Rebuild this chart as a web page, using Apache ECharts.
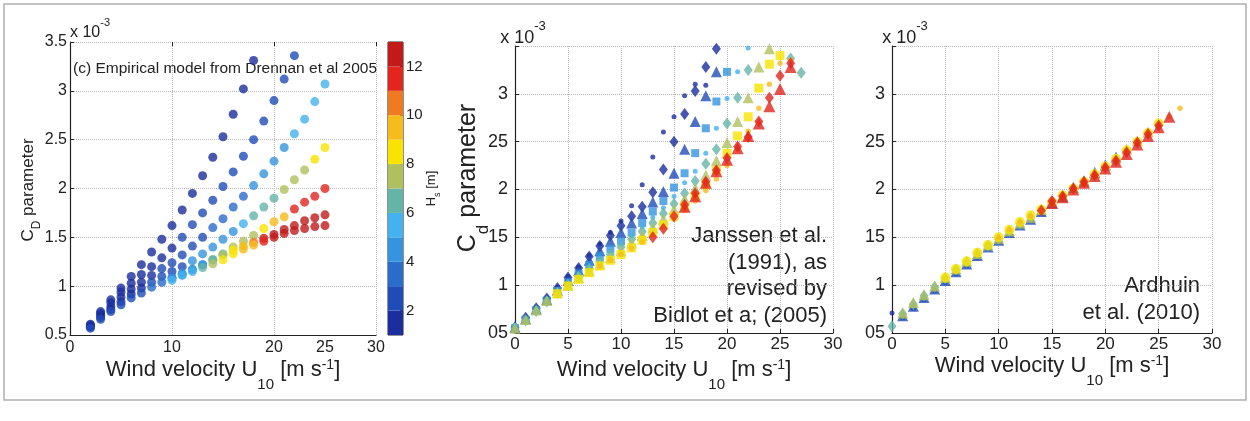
<!DOCTYPE html>
<html>
<head>
<meta charset="utf-8">
<script src="https://cdn.jsdelivr.net/npm/echarts@6/dist/echarts.min.js"></script>
<style>
html, body { margin: 0; padding: 0; background: #fff; }
#chart { width: 1250px; height: 421px; }
</style>
</head>
<body>
<div id="chart"></div>
<script>
// Hs colour bar (m) : band edges and colours
const hsLevels = [1, 2, 3, 4, 5, 6, 7, 8, 9, 10, 11, 12, 13];
const hsColors = ['#1a2e9e', '#1f4cb8', '#2a6ccc', '#3494e0', '#44b2ee', '#64b4a8',
                  '#b0c05c', '#f8e400', '#f6bc1c', '#f07a22', '#e2261e', '#c01a1a'];
const hsTicks = [2, 4, 6, 8, 10, 12];

// tick labels
const yTicks = [0.5, 1, 1.5, 2, 2.5, 3, 3.5];
const yLabels1 = ['0.5', '1', '1.5', '2', '2.5', '3', '3.5'];
const yLabels23 = ['05', '1', '15', '2', '25', '3', ''];
const xTicks = [0, 5, 10, 15, 20, 25, 30];
const xLabels1 = ['0', '', '10', '', '20', '25', '30'];
const xLabels23 = ['0', '5', '10', '15', '20', '25', '30'];

// (c) Drennan et al 2005 : each curve starts at U = start, one point per m/s
const drC1 = { start: 2, cd: [0.61,0.74,0.86,0.98,1.10,1.22,1.35,1.48,1.62,1.78,1.95,2.13,2.32,2.53,2.76,3.02,3.31],
  hs: [1.5,1.5,1.5,1.5,1.5,1.5,1.5,1.5,1.5,1.5,1.5,1.5,1.5,1.5,1.5,1.5,1.5] };
const drC2 = { start: 2, cd: [0.60,0.72,0.83,0.94,1.03,1.12,1.20,1.29,1.39,1.50,1.63,1.75,1.88,2.02,2.17,2.33,2.50,2.69,2.90,3.12,3.36],
  hs: [1.5,1.5,1.5,1.5,1.5,1.5,1.5,1.5,1.5,2.5,2.5,2.5,2.5,2.5,2.5,2.5,2.5,2.5,2.5,2.5,2.5] };
const drC3 = { start: 2, cd: [0.59,0.70,0.79,0.89,0.97,1.04,1.11,1.18,1.24,1.32,1.41,1.50,1.60,1.69,1.81,1.92,2.03,2.15,2.28,2.42,2.56,2.71,2.89,3.07],
  hs: [1.5,1.5,1.5,1.5,1.5,1.5,1.5,2.5,2.5,2.5,2.5,2.5,3.5,3.5,3.5,3.5,4.5,4.5,4.5,4.5,5.5,5.5,5.5,5.5] };
const drC4 = { start: 2, cd: [0.58,0.68,0.76,0.84,0.92,0.98,1.04,1.10,1.15,1.20,1.26,1.33,1.40,1.48,1.56,1.64,1.72,1.81,1.90,1.99,2.09,2.19,2.30,2.42],
  hs: [1.5,1.5,1.5,1.5,1.5,1.5,2.5,2.5,2.5,2.5,4.5,4.5,4.5,4.5,4.5,5.5,6.5,6.5,6.5,7.5,7.5,7.5,8.5,8.5] };
const drC5 = { start: 2, cd: [0.57,0.66,0.74,0.81,0.88,0.93,0.99,1.04,1.09,1.13,1.17,1.22,1.27,1.33,1.40,1.46,1.52,1.59,1.66,1.71,1.79,1.86,1.92,2.00],
  hs: [2.5,2.5,2.5,2.5,2.5,2.5,3.5,3.5,3.5,4.5,4.5,4.5,6.5,6.5,7.5,7.5,7.5,8.5,9.5,9.5,11.5,11.5,11.5,11.5] };
const drC6 = { start: 10, cd: [1.08,1.12,1.17,1.22,1.27,1.32,1.37,1.41,1.45,1.49,1.53,1.58,1.62,1.67,1.70,1.73],
  hs: [4.5,4.5,4.5,4.5,6.5,7.5,8.5,9.5,10.5,12.5,12.5,12.5,12.5,12.5,12.5,12.5] };
const drC7 = { start: 10, cd: [1.06,1.11,1.15,1.19,1.23,1.27,1.33,1.38,1.42,1.46,1.50,1.54,1.57,1.59,1.61,1.62],
  hs: [5.5,5.5,5.5,6.5,7.5,8.5,8.5,9.5,9.5,11.5,12.5,12.5,12.5,12.5,12.5,12.5] };
const drennan = [drC1, drC2, drC3, drC4, drC5, drC6, drC7];

// Janssen (1991) / Bidlot (2005)
const jaNavyDot = { start: 0, hs: 1.2, cd: [0.57,0.67,0.77,0.87,0.98,1.09,1.19,1.31,1.43,1.55,1.67,1.83,2.05,2.34,2.60,2.76,2.98,3.10,3.09] };
const jaNavyDiamond = { start: 0, hs: 1.8, cd: [0.56,0.66,0.76,0.86,0.97,1.08,1.18,1.30,1.41,1.52,1.62,1.72,1.82,1.97,2.21,2.50,2.79,3.03,3.28,3.47] };
const jaBlueTriangle = { start: 0, hs: 2.8, cd: [0.56,0.65,0.75,0.85,0.95,1.05,1.15,1.26,1.36,1.46,1.55,1.65,1.75,1.87,1.98,2.17,2.42,2.71,2.98,3.23] };
const jaBlueSquare = { start: 0, hs: 4.2, cd: [0.55,0.64,0.74,0.84,0.94,1.03,1.12,1.21,1.30,1.38,1.46,1.55,1.65,1.77,1.88,2.02,2.17,2.38,2.64,2.92,3.23] };
const jaCyanDot = { start: 0, hs: 5.2, cd: [0.58,0.64,0.74,0.84,0.93,1.02,1.10,1.19,1.27,1.35,1.43,1.52,1.61,1.71,1.81,1.93,2.07,2.19,2.38,2.64,2.95,3.23,3.48] };
const jaTealDiamond = { start: 0, hs: 6.5, cd: [0.55,0.63,0.73,0.83,0.92,1.01,1.09,1.17,1.25,1.32,1.40,1.48,1.56,1.65,1.75,1.85,1.96,2.09,2.27,2.42,2.69,2.96,3.25] };
const jaTealDiamondEnd = { start: 26, hs: 6.5, cd: [3.37, 3.22] };
const jaGreenTriangle = { start: 0, hs: 7.5, cd: [0.55,0.64,0.74,0.84,0.92,1.00,1.08,1.15,1.22,1.29,1.36,1.44,1.52,1.60,1.69,1.79,1.90,2.01,2.15,2.30,2.49,2.71,2.96,3.28,3.47] };
const jaYellowSquare = { start: 4, hs: 8.5, cd: [0.91,0.99,1.06,1.13,1.20,1.26,1.32,1.39,1.47,1.55,1.63,1.72,1.82,1.93,2.05,2.20,2.38,2.56,2.76,3.06,3.31,3.40] };
const jaOrangeDot = { start: 8, hs: 9.5, cd: [1.20,1.26,1.32,1.38,1.45,1.53,1.61,1.69,1.78,1.88,1.99,2.11,2.25,2.42,2.61,2.85,3.10,3.32,3.35] };
const jaRedDiamond = { start: 13, hs: 11.3, cd: [1.50,1.59,1.72,1.84,1.96,2.08,2.20,2.33,2.45,2.55,2.71,2.96,3.19,3.32] };
const jaRedTriangle = { start: 16, hs: 11.7, cd: [1.82,1.93,2.07,2.19,2.31,2.43,2.56,2.69,2.87,3.05,3.28] };

// Ardhuin et al. (2010)
const arNavyDot = { start: 0, hs: 1.2, cd: [0.71,0.66,0.76,0.85,0.94,1.03,1.12,1.20,1.29,1.38,1.45,1.53,1.61,1.68,1.75,1.84,1.91,1.99,2.07,2.16,2.25] };
const arBlueTriangle = { start: 1, hs: 2.8, cd: [0.68,0.78,0.87,0.96,1.05,1.14,1.22,1.31,1.40,1.47,1.55,1.63,1.69,1.77,1.86,1.93,2.02,2.09,2.18,2.26,2.34] };
const arTealDiamond = { start: 0, hs: 6.5, cd: [0.57,0.70,0.80,0.89,0.98,1.07,1.16,1.24,1.33,1.41,1.48,1.56,1.64,1.71,1.78,1.87,1.93,2.01,2.08,2.16,2.24,2.32,2.40] };
const arGreenTriangle = { start: 1, hs: 7.5, cd: [0.71,0.82,0.90,0.99,1.08,1.17,1.25,1.33,1.42,1.49,1.57,1.65,1.71,1.79,1.88,1.94,2.02,2.09,2.17,2.25,2.33,2.42,2.51,2.60] };
const arYellowDot = { start: 5, hs: 8.5, cd: [1.08,1.17,1.25,1.34,1.42,1.50,1.58,1.66,1.73,1.79,1.87,1.94,2.01,2.08,2.16,2.24,2.32,2.41,2.50,2.59,2.69] };
const arOrangeDot = { start: 10, hs: 9.5, cd: [1.50,1.58,1.66,1.72,1.78,1.88,1.93,2.00,2.08,2.15,2.23,2.31,2.39,2.49,2.58,2.67,2.76,2.85] };
const arRedDiamond = { start: 14, hs: 11.3, cd: [1.78,1.88,1.93,2.01,2.08,2.15,2.23,2.30,2.39,2.49,2.58,2.67] };
const arRedTriangle = { start: 15, hs: 11.7, cd: [1.86,1.92,2.00,2.07,2.14,2.22,2.29,2.37,2.47,2.56,2.65,2.76] };

const FONT = '"Liberation Sans", Arial, sans-serif';
const INK = '#222';

const chart = echarts.init(document.getElementById('chart'), null, { renderer: 'canvas' });

const dotted = { show: true, lineStyle: { type: 'dotted', color: '#b8b8b8', width: 1 } };
const axisLine = { show: true, lineStyle: { color: INK, width: 1.2 } };
const tickIn = { show: true, inside: true, length: 4, lineStyle: { color: INK } };

const windName = 'Wind velocity U{sub|10} [m s{sup|-1}]';
const windStyle = () => ({
  fontSize: 22, color: INK, fontFamily: FONT, lineHeight: 44,
  rich: {
    sub: { fontSize: 15, lineHeight: 16, verticalAlign: 'bottom', fontFamily: FONT, color: INK },
    sup: { fontSize: 14, height: 34, verticalAlign: 'top', fontFamily: FONT, color: INK }
  }
});

const xScale = { type: 'value', min: 0, max: 30, interval: 5 };
const yScale = { type: 'value', min: 0.5, max: 3.5, interval: 0.5 };

const xAxis = [
  // panel (c) labels
  Object.assign({}, xScale, {
    gridIndex: 0, axisLine: axisLine, axisTick: { show: false }, splitLine: { show: false },
    axisLabel: { margin: 5, fontSize: 16, color: INK, fontFamily: FONT,
      formatter: v => xLabels1[xTicks.indexOf(v)] },
    name: windName, nameLocation: 'middle', nameGap: 13, nameMoveOverlap: false, nameTextStyle: windStyle()
  }),
  // panel (c) grid lines every 10
  { type: 'value', min: 0, max: 30, interval: 10, gridIndex: 0, axisLine: { show: false },
    axisTick: tickIn, axisLabel: { show: false }, splitLine: dotted },
  // colour bar
  { type: 'category', gridIndex: 1, data: ['Hs'], show: false },
  // Janssen
  Object.assign({}, xScale, {
    gridIndex: 2, axisLine: axisLine, axisTick: tickIn, splitLine: dotted,
    axisLabel: { margin: 3, fontSize: 17, color: INK, fontFamily: FONT,
      formatter: v => xLabels23[xTicks.indexOf(v)] },
    name: windName, nameLocation: 'middle', nameGap: 15, nameMoveOverlap: false, nameTextStyle: windStyle()
  }),
  // Ardhuin
  Object.assign({}, xScale, {
    gridIndex: 3, axisLine: axisLine, axisTick: tickIn, splitLine: dotted,
    axisLabel: { margin: 3, fontSize: 17, color: INK, fontFamily: FONT,
      formatter: v => xLabels23[xTicks.indexOf(v)] },
    name: windName, nameLocation: 'middle', nameGap: 11, nameMoveOverlap: false, nameTextStyle: windStyle()
  })
];

const expName = (size, mainLh, padLeft) => ({
  fontSize: size, color: INK, fontFamily: FONT, lineHeight: mainLh, align: 'center',
  padding: [0, 0, 0, padLeft],
  rich: { sup: { fontSize: Math.round(size * 0.7), verticalAlign: 'top', fontFamily: FONT, color: INK } }
});

const yAxis = [
  Object.assign({}, yScale, {
    gridIndex: 0, axisLine: axisLine, axisTick: tickIn, splitLine: dotted,
    axisLabel: { margin: 3, fontSize: 16, color: INK, fontFamily: FONT,
      formatter: v => yLabels1[yTicks.indexOf(v)] },
    name: 'x 10{sup|-3}', nameLocation: 'end', nameGap: -7, nameMoveOverlap: false, nameTextStyle: expName(16, 32, 40)
  }),
  // colour bar axis
  { type: 'value', gridIndex: 1, position: 'right', min: 1, max: 13,
    axisLine: { show: false }, splitLine: { show: false },
    axisTick: { show: true, inside: true, length: 3, customValues: hsTicks, lineStyle: { color: INK } },
    axisLabel: { margin: 3, fontSize: 15, color: INK, fontFamily: FONT, customValues: hsTicks },
    name: 'H{sub|s} [m]', nameLocation: 'middle', nameRotate: 90, nameGap: 17, nameMoveOverlap: false,
    nameTextStyle: { fontSize: 13, color: INK, fontFamily: FONT, lineHeight: 22,
      rich: { sub: { fontSize: 9, verticalAlign: 'bottom', fontFamily: FONT, color: INK } } }
  },
  Object.assign({}, yScale, {
    gridIndex: 2, axisLine: axisLine, axisTick: tickIn, splitLine: dotted,
    axisLabel: { margin: 7, fontSize: 18, color: INK, fontFamily: FONT,
      formatter: v => yLabels23[yTicks.indexOf(v)] },
    name: 'x 10{sup|-3}', nameLocation: 'end', nameGap: -10, nameMoveOverlap: false, nameTextStyle: expName(18, 36, 16)
  }),
  Object.assign({}, yScale, {
    gridIndex: 3, axisLine: axisLine, axisTick: tickIn, splitLine: dotted,
    axisLabel: { margin: 7, fontSize: 18, color: INK, fontFamily: FONT,
      formatter: v => yLabels23[yTicks.indexOf(v)] },
    name: 'x 10{sup|-3}', nameLocation: 'end', nameGap: -10, nameMoveOverlap: false, nameTextStyle: expName(18, 36, 26)
  })
];

const series = [];
// colour bar bands, stacked from the axis minimum
series.push({ type: 'bar', xAxisIndex: 2, yAxisIndex: 1, stack: 'cb', barWidth: '100%', silent: true,
  data: [hsLevels[0]], itemStyle: { color: 'rgba(0,0,0,0)' } });
hsColors.forEach((c, i) => {
  series.push({ type: 'bar', xAxisIndex: 2, yAxisIndex: 1, stack: 'cb', barWidth: '100%', silent: true,
    data: [hsLevels[i + 1] - hsLevels[i]], itemStyle: { color: c } });
});
const scatterIdx = [];
const addScatter = (s) => { scatterIdx.push(series.length); series.push(s); };

drennan.forEach(c => addScatter({
  type: 'scatter', xAxisIndex: 0, yAxisIndex: 0, symbol: 'circle', symbolSize: 9,
  data: c.cd.map((v, i) => [c.start + i, v, c.hs[i]])
}));

const janssen = [
  [jaNavyDot, 'circle', 5], [jaNavyDiamond, 'diamond', [9, 12]], [jaBlueTriangle, 'triangle', 11],
  [jaBlueSquare, 'rect', 8], [jaCyanDot, 'circle', 5], [jaTealDiamond, 'diamond', [9, 12]],
  [jaTealDiamondEnd, 'diamond', [9, 12]], [jaGreenTriangle, 'triangle', 11], [jaYellowSquare, 'rect', 9],
  [jaOrangeDot, 'circle', 5.5], [jaRedDiamond, 'diamond', [9, 12]], [jaRedTriangle, 'triangle', 12]
];
janssen.forEach(([s, sym, size]) => addScatter({
  type: 'scatter', xAxisIndex: 3, yAxisIndex: 2, symbol: sym, symbolSize: size,
  data: s.cd.map((v, i) => [s.start + i, v, s.hs])
}));

const ardhuin = [
  [arNavyDot, 'circle', 5], [arBlueTriangle, 'triangle', 11], [arTealDiamond, 'diamond', [9, 12]],
  [arGreenTriangle, 'triangle', 11], [arYellowDot, 'circle', 10], [arOrangeDot, 'circle', 5.5],
  [arRedDiamond, 'diamond', [9, 12]], [arRedTriangle, 'triangle', 12]
];
ardhuin.forEach(([s, sym, size]) => addScatter({
  type: 'scatter', xAxisIndex: 4, yAxisIndex: 3, symbol: sym, symbolSize: size,
  data: s.cd.map((v, i) => [s.start + i, v, s.hs])
}));

const option = {
  backgroundColor: '#fff',
  animation: false,
  grid: [
    { left: 70, top: 42, width: 306, height: 293 },
    { left: 388, top: 42, width: 15, height: 293, show: true, borderColor: INK, borderWidth: 1, backgroundColor: 'transparent' },
    { left: 515, top: 46, width: 318, height: 287 },
    { left: 892, top: 46, width: 320, height: 287 }
  ],
  xAxis: xAxis,
  yAxis: yAxis,
  visualMap: {
    type: 'piecewise', show: false, dimension: 2, seriesIndex: scatterIdx,
    pieces: hsColors.map((c, i) => ({ gte: hsLevels[i], lt: hsLevels[i + 1], color: c }))
  },
  graphic: [
    { type: 'rect', silent: true, z: -1,
      shape: { x: 4, y: 4, width: 1242, height: 396 },
      style: { fill: 'none', stroke: '#b0b0b0', lineWidth: 1.5 } },
    { type: 'text', left: 73, top: 61,
      style: { text: '(c) Empirical model from Drennan et al 2005', fontSize: 15.5, fontFamily: FONT, fill: INK } },
    { type: 'text', x: 28, y: 190, rotation: Math.PI / 2,
      style: { text: 'C{sub|D} parameter', fontSize: 17, fontFamily: FONT, fill: INK, align: 'center',
        verticalAlign: 'middle', lineHeight: 30,
        rich: { sub: { fontSize: 12, verticalAlign: 'bottom', fontFamily: FONT, fill: INK } } } },
    { type: 'text', x: 468, y: 178, rotation: Math.PI / 2,
      style: { text: 'C{sub|d} parameter', fontSize: 25, fontFamily: FONT, fill: INK, align: 'center',
        verticalAlign: 'middle', lineHeight: 48,
        rich: { sub: { fontSize: 17, verticalAlign: 'bottom', fontFamily: FONT, fill: INK } } } },
    { type: 'text', x: 827, y: 223,
      style: { text: 'Janssen et al.\n(1991), as\nrevised by\nBidlot et a; (2005)', fontSize: 22,
        lineHeight: 26.5, fontFamily: FONT, fill: INK, align: 'right' } },
    { type: 'text', x: 1200, y: 273,
      style: { text: 'Ardhuin\net al. (2010)', fontSize: 22, lineHeight: 26.6, fontFamily: FONT, fill: INK, align: 'right' } }
  ],
  series: series
};

chart.setOption(option);
window.addEventListener('resize', () => chart.resize());
</script>
</body>
</html>
